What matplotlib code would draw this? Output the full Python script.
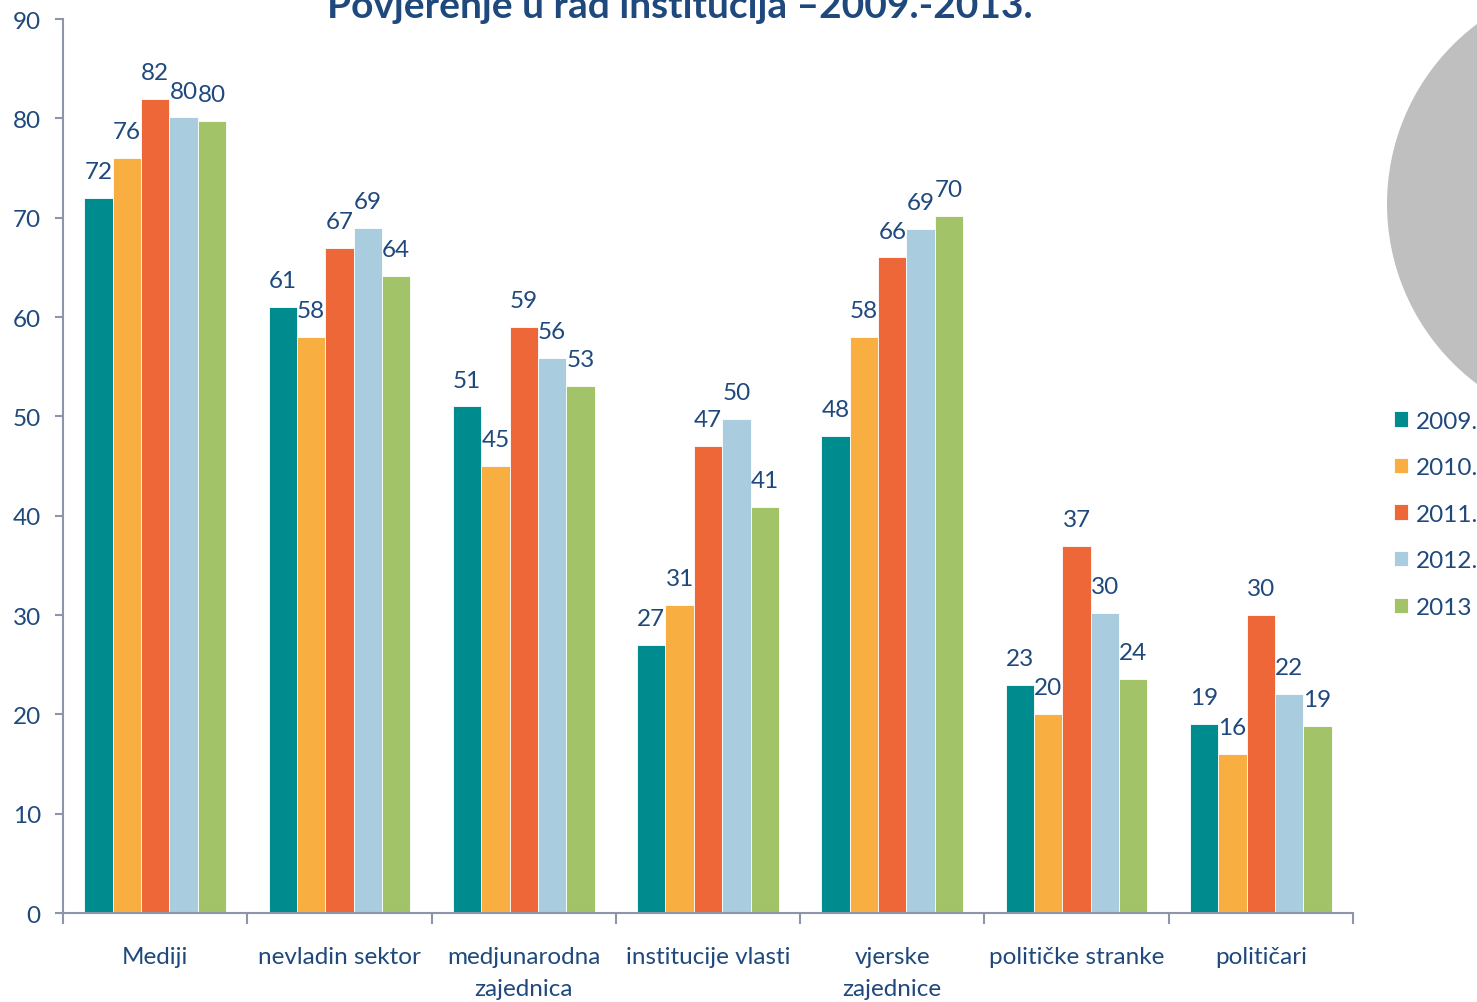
import numpy as np
import matplotlib
matplotlib.use("Agg")
import matplotlib.pyplot as plt
from matplotlib.patches import Circle
from matplotlib.transforms import IdentityTransform

plt.rcParams['font.family'] = ['Lato', 'DejaVu Sans']

categories = ['Mediji', 'nevladin sektor', 'medjunarodna\nzajednica', 'institucije vlasti',
              'vjerske\nzajednice', 'političke stranke', 'političari']
years = ['2009.', '2010.', '2011.', '2012.', '2013']
v2009 = [72, 61, 51, 27, 48, 23, 19]
v2010 = [76, 58, 45, 31, 58, 20, 16]
v2011 = [82, 67, 59, 47, 66, 37, 30]
v2012 = [80.1, 69, 55.9, 49.7, 68.9, 30.2, 22.1]
v2013 = [79.7, 64.1, 53.1, 40.9, 70.2, 23.6, 18.8]
series = [v2009, v2010, v2011, v2012, v2013]
colors = ['#008C8F', '#F9AE41', '#EE6738', '#A9CCDE', '#A2C367']

text_col = '#1F497D'
axis_col = '#8E95AA'

fig = plt.figure(figsize=(14.77, 10.03), dpi=100)
ax = fig.add_axes([0.0427, 0.0887, 0.8733, 0.8913])

x = np.arange(len(categories))
w = 0.154
for i, (vals, c, yr) in enumerate(zip(series, colors, years)):
    pos = x + (i - 2) * w
    ax.bar(pos, vals, width=w, color=c, edgecolor='white', linewidth=0.6, label=yr)
    for px, v in zip(pos, vals):
        ax.annotate(f"{v:.0f}", (px, v), xytext=(0, 19), textcoords='offset points',
                    ha='center', va='center', fontsize=17.5, color=text_col)

ax.set_xlim(-0.5, 6.5)
ax.set_ylim(0, 90)
ax.set_yticks(range(0, 91, 10))
ax.set_xticks(x)
ax.set_xticklabels(categories, fontsize=17.5, color=text_col, linespacing=1.62)
ax.set_xticks(np.arange(-0.5, 7, 1), minor=True)
ax.tick_params(axis='x', which='major', length=0, pad=24)
ax.tick_params(axis='x', which='minor', length=8, width=1.5, color=axis_col, direction='out')
ax.tick_params(axis='y', length=6, width=1.5, color=axis_col, labelsize=17.5, labelcolor=text_col, pad=10)
for s in ['top', 'right']:
    ax.spines[s].set_visible(False)
for s in ['left', 'bottom']:
    ax.spines[s].set_color(axis_col)
    ax.spines[s].set_linewidth(1.5)

fig.text(0.46, 0.994, 'Povjerenje u rad institucija –2009.-2013.', ha='center', va='center',
         fontsize=28, fontweight='bold', color=text_col)

# grey circle peeking in at the right edge
fig.patches.append(Circle((1612, 1003 - 205), 225, transform=IdentityTransform(),
                          facecolor='#BFBFBF', edgecolor='none', figure=fig))

handles, labels = ax.get_legend_handles_labels()
fig.legend(handles, labels, loc='upper left', bbox_to_anchor=(1384 / 1477, 1 - 402 / 1003),
           frameon=False, fontsize=17.5, labelcolor=text_col, handlelength=0.6, handleheight=0.6,
           handletextpad=0.3, labelspacing=1.05, borderaxespad=0)

fig.savefig('out.png', dpi=100)
